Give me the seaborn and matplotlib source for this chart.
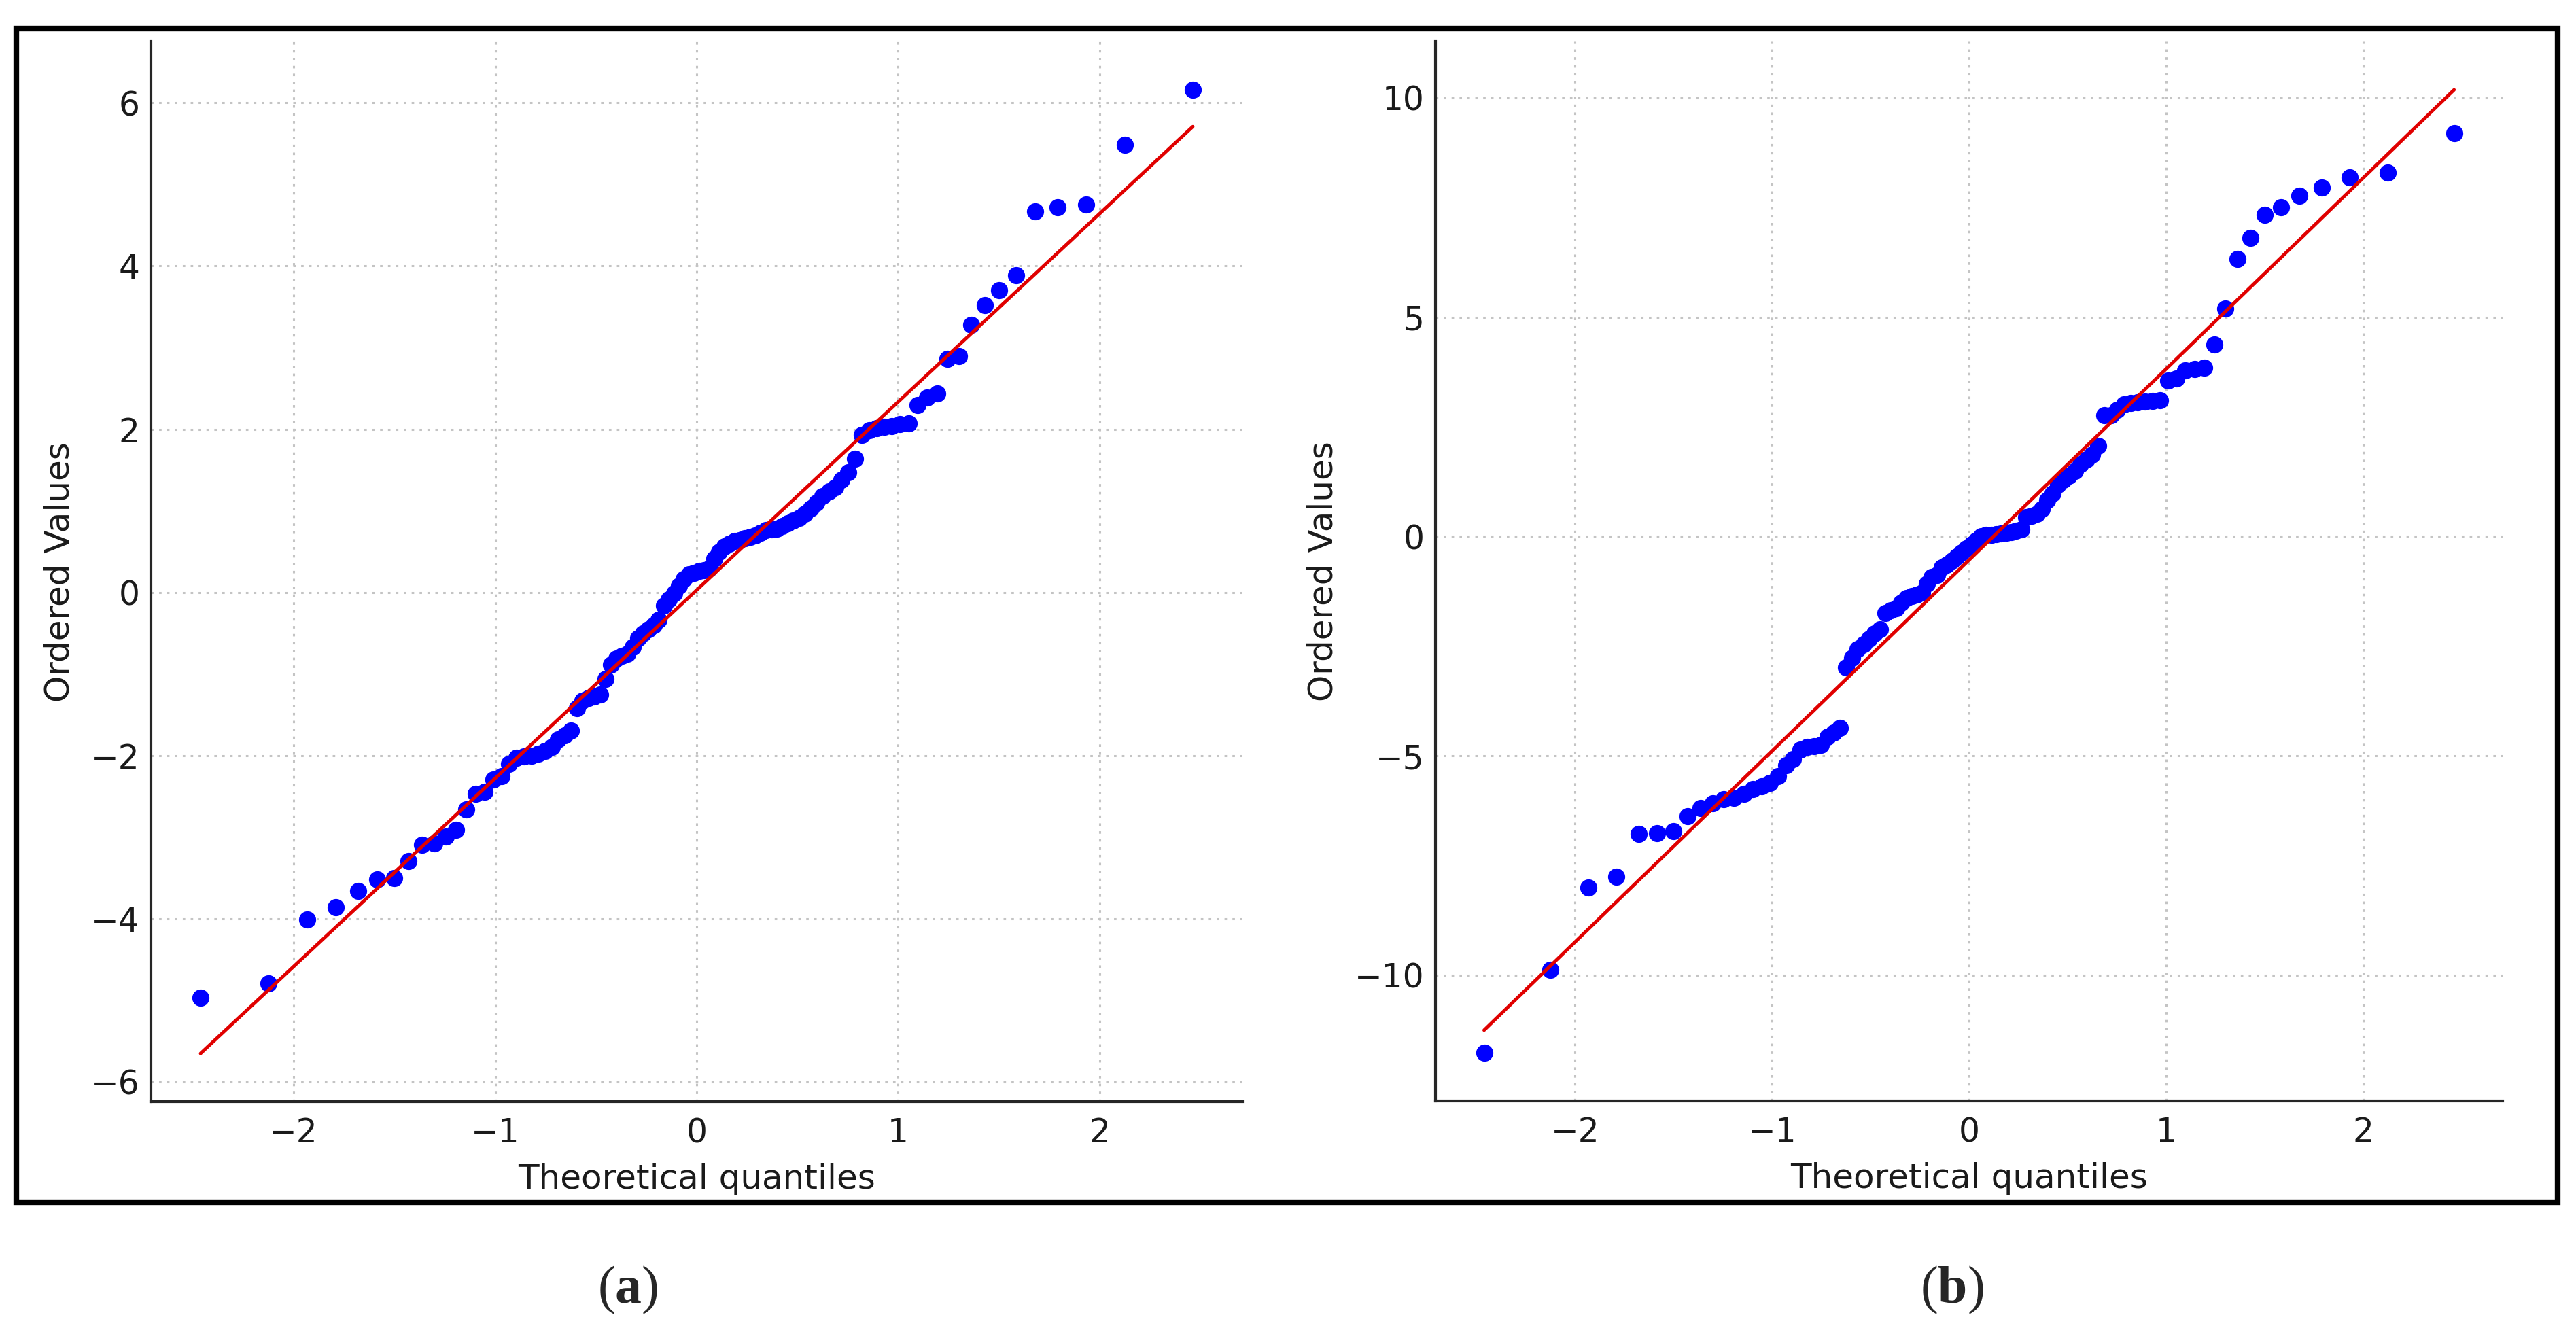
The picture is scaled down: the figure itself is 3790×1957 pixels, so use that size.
import numpy as np
import pandas as pd
import matplotlib
matplotlib.use('Agg')
import matplotlib.pyplot as plt
import seaborn as sns
from statistics import NormalDist
from matplotlib.patches import Rectangle

# ordered sample values (n = 100 each)
ordered_a = [
    -4.97, -4.79, -4.01, -3.86, -3.66, -3.52, -3.50, -3.29, -3.09, -3.08,
    -2.99, -2.91, -2.66, -2.47, -2.44, -2.29, -2.25, -2.10, -2.03, -2.01,
    -2.00, -1.98, -1.94, -1.89, -1.80, -1.75, -1.69, -1.42, -1.33, -1.29,
    -1.28, -1.25, -1.06, -0.89, -0.81, -0.78, -0.75, -0.67, -0.56, -0.50,
    -0.45, -0.40, -0.34, -0.16, -0.09, -0.01, 0.08, 0.16, 0.22, 0.24,
    0.26, 0.27, 0.30, 0.41, 0.50, 0.56, 0.60, 0.63, 0.64, 0.66,
    0.68, 0.70, 0.73, 0.76, 0.77, 0.78, 0.81, 0.85, 0.88, 0.91,
    0.96, 1.03, 1.10, 1.18, 1.24, 1.29, 1.38, 1.47, 1.64, 1.93,
    1.99, 2.01, 2.03, 2.04, 2.06, 2.07, 2.30, 2.39, 2.44, 2.86,
    2.90, 3.28, 3.52, 3.70, 3.89, 4.67, 4.72, 4.75, 5.49, 6.16,
]
ordered_b = [
    -11.77, -9.87, -8.01, -7.76, -6.78, -6.77, -6.71, -6.38, -6.19, -6.09,
    -5.99, -5.96, -5.86, -5.75, -5.70, -5.62, -5.46, -5.22, -5.07, -4.86,
    -4.80, -4.78, -4.75, -4.57, -4.47, -4.37, -2.98, -2.77, -2.57, -2.46,
    -2.33, -2.21, -2.11, -1.74, -1.69, -1.64, -1.51, -1.41, -1.36, -1.33,
    -1.28, -1.08, -0.92, -0.87, -0.71, -0.64, -0.55, -0.46, -0.37, -0.27,
    -0.18, -0.08, 0.00, 0.03, 0.04, 0.05, 0.06, 0.08, 0.10, 0.13,
    0.16, 0.44, 0.47, 0.52, 0.62, 0.83, 0.98, 1.19, 1.29, 1.39,
    1.49, 1.65, 1.75, 1.86, 2.06, 2.76, 2.77, 2.88, 3.01, 3.04,
    3.06, 3.07, 3.09, 3.10, 3.55, 3.60, 3.78, 3.82, 3.85, 4.38,
    5.19, 6.33, 6.81, 7.33, 7.50, 7.77, 7.96, 8.18, 8.30, 9.19,
]
panel_labels = ['a', 'b']
x_label = 'Theoretical quantiles'
y_label = 'Ordered Values'

sns.set_theme(style='white')
plt.rcParams['font.family'] = ['DejaVu Sans']
plt.rcParams['mathtext.fontset'] = 'custom'
plt.rcParams['mathtext.rm'] = 'Liberation Serif'
plt.rcParams['mathtext.bf'] = 'Liberation Serif:bold'


def qq_frame(values):
    # normal probability plot, same order statistics as scipy's probplot
    n = len(values)
    p = (np.arange(1, n + 1) - 0.3175) / (n + 0.365)
    p[-1] = 0.5 ** (1.0 / n)
    p[0] = 1 - p[-1]
    osm = np.array([NormalDist().inv_cdf(v) for v in p])
    osr = np.sort(np.asarray(values, dtype=float))
    slope, intercept = np.polyfit(osm, osr, 1)
    return pd.DataFrame({'quantile': osm, 'value': osr, 'fit': slope * osm + intercept})


fig = plt.figure(figsize=(37.9, 19.57), dpi=100)
positions = [[0.0586, 0.1717, 0.4237, 0.7970], [0.5573, 0.1722, 0.4142, 0.7965]]
label_x = [924 / 3790, 2872 / 3790]

for vals, pos, lab, lx in zip([ordered_a, ordered_b], positions, panel_labels, label_x):
    df = qq_frame(vals)
    ax = fig.add_axes(pos)
    sns.scatterplot(data=df, x='quantile', y='value', ax=ax, color='#0000ff',
                    s=330, linewidth=0, zorder=3)
    sns.lineplot(data=df, x='quantile', y='fit', ax=ax, color='#e00000',
                 linewidth=3.6, zorder=4)
    ax.set_xticks([-2, -1, 0, 1, 2])
    ax.grid(True, color='#c4c4c4', linestyle=(0, (1.2, 2.6)), linewidth=2.2)
    ax.set_axisbelow(True)
    sns.despine(ax=ax)
    for side in ['left', 'bottom']:
        ax.spines[side].set_color('#262626')
        ax.spines[side].set_linewidth(3)
    ax.tick_params(direction='in', length=9, width=2.5, color='#262626',
                   labelsize=35, pad=12, labelcolor='#1a1a1a')
    ax.tick_params(axis='x', pad=16)
    ax.set_xlabel(x_label, fontsize=36, labelpad=14, color='#1a1a1a')
    ax.set_ylabel(y_label, fontsize=36, labelpad=16, color='#1a1a1a')
    fig.text(lx, 1 - 1898 / 1957, '($\\mathbf{' + lab + '}$)', ha='center', va='center',
             fontsize=56, family='Liberation Serif')

fig.add_artist(Rectangle((0.0063, 0.0961), 0.9866, 0.8824, transform=fig.transFigure,
                         fill=False, edgecolor='black', linewidth=6))

fig.savefig('out.png', dpi=100)
